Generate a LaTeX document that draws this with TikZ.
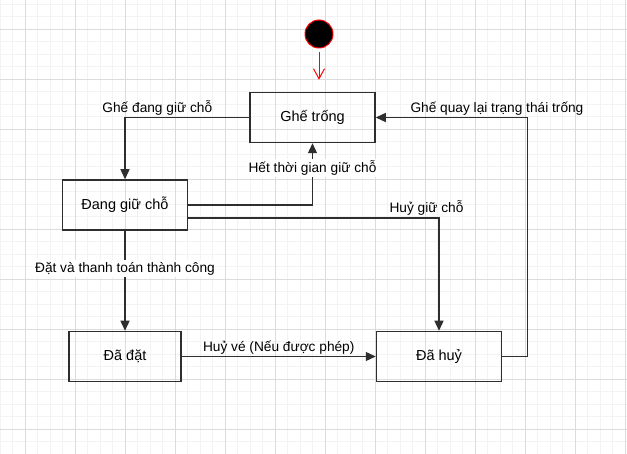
\documentclass[tikz,border=0pt]{standalone}
\usepackage{fontspec}
\setmainfont{Liberation Sans}
\usepackage{tikz}
\usetikzlibrary{positioning,arrows.meta}
\definecolor{gridmajor}{HTML}{DCDCDC}
\definecolor{gridminor}{HTML}{F3F3F3}
\definecolor{linegray}{HTML}{2E2E2E}

\begin{document}
\begin{tikzpicture}[x=1pt, y=-1pt, node distance=100pt,
    state/.style={draw=linegray, line width=1.5pt, rectangle, minimum width=125pt, minimum height=50pt, font=\fontsize{14.5}{17}\selectfont},
    lbl/.style={font=\fontsize{13.7}{16}\selectfont, inner sep=2pt},
    flow/.style={draw=linegray, line width=1.3pt, -{Triangle[length=10pt,width=9pt]}}]
    \useasboundingbox (0,0) rectangle (627,454);
    \fill[white] (0,0) rectangle (627,454);
    \begin{scope}[shift={(25pt,-29.5pt)}]
        \draw[gridminor, line width=1pt, step=12.5pt] (-25,424.5) grid (602,-29.5);
        \draw[gridmajor, line width=1pt, step=50pt] (-25,424.5) grid (602,-29.5);
    \end{scope}

    \node [circle, fill=black, draw=red, line width=1pt, minimum size=28pt, inner sep=0pt] (start) at (319,34) {};
    \node [state] (ghe) at (312.5,117.5) {Ghế trống};
    \node [state] (dang) at (125,205) {Đang giữ chỗ};
    \node [state, minimum width=112pt, below=100pt of dang] (dadat) {Đã đặt};
    \node [state, right=194pt of dadat] (dahuy) {Đã huỷ};

    \draw [red, line width=1pt, -{Straight Barb[length=10pt,width=11pt]}, shorten <=4pt, shorten >=12pt] (start) -- (start |- ghe.north);
    \draw [flow] (ghe.west) -| node[lbl, pos=0.37, above] {Ghế đang giữ chỗ} (dang.north);
    \draw [flow] (dang.east) -| node[lbl, pos=0.8, fill=white] {Hết thời gian giữ chỗ} (ghe.south);
    \draw [flow] ([yshift=-13pt]dang.east) -| node[lbl, pos=0.475, above] {Huỷ giữ chỗ} (dahuy.north);
    \draw [flow] (dang) -- (dadat) node[lbl, pos=0.38, fill=white] {Đặt và thanh toán thành công};
    \draw [flow] (dadat) -- (dahuy) node[lbl, midway, above] {Huỷ vé (Nếu được phép)};
    \draw [flow] (dahuy.east) -- ++(25,0) |- node[lbl, pos=0.6, above] {Ghế quay lại trạng thái trống} (ghe.east);
\end{tikzpicture}
\end{document}
